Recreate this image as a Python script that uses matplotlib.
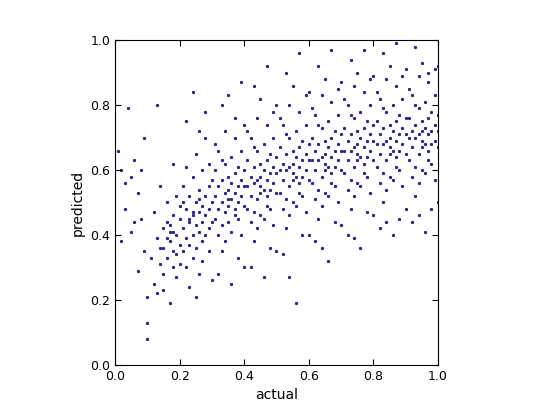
import matplotlib
matplotlib.use('Agg')
import matplotlib.pyplot as plt

# actual / predicted values, grouped by x band
x_low = [0.01, 0.02, 0.03, 0.03, 0.04, 0.05, 0.05, 0.06, 0.07, 0.07, 0.08, 0.08, 0.09, 0.09, 0.10, 0.10, 0.10, 0.02, 0.06]
y_low = [0.66, 0.38, 0.48, 0.56, 0.79, 0.58, 0.41, 0.63, 0.53, 0.29, 0.45, 0.60, 0.70, 0.35, 0.21, 0.08, 0.13, 0.60, 0.44]

x_b1 = [0.11, 0.12, 0.12, 0.13, 0.13, 0.14, 0.14, 0.15, 0.15, 0.15, 0.16, 0.16, 0.16, 0.17, 0.17, 0.17, 0.18, 0.18, 0.18,
        0.19, 0.19, 0.19, 0.20, 0.20, 0.13, 0.18, 0.16, 0.17, 0.19, 0.20, 0.15, 0.18, 0.14, 0.20]
y_b1 = [0.33, 0.25, 0.47, 0.39, 0.22, 0.55, 0.31, 0.42, 0.36, 0.28, 0.44, 0.50, 0.33, 0.38, 0.41, 0.19, 0.46, 0.35, 0.30,
        0.52, 0.40, 0.27, 0.45, 0.37, 0.80, 0.62, 0.39, 0.43, 0.34, 0.49, 0.23, 0.41, 0.36, 0.31]

x_b2 = [0.21, 0.21, 0.21, 0.22, 0.22, 0.22, 0.22, 0.23, 0.23, 0.23, 0.23, 0.24, 0.24, 0.24, 0.24, 0.25, 0.25, 0.25, 0.25,
        0.26, 0.26, 0.26, 0.26, 0.27, 0.27, 0.27, 0.27, 0.28, 0.28, 0.28, 0.28, 0.29, 0.29, 0.29, 0.29, 0.30, 0.30, 0.30,
        0.30, 0.22, 0.24, 0.26, 0.28, 0.25, 0.27, 0.23, 0.29, 0.21, 0.26, 0.24]
y_b2 = [0.42, 0.35, 0.55, 0.48, 0.39, 0.30, 0.61, 0.44, 0.52, 0.37, 0.24, 0.46, 0.40, 0.58, 0.33, 0.50, 0.43, 0.36, 0.65,
        0.47, 0.54, 0.41, 0.28, 0.49, 0.44, 0.60, 0.38, 0.52, 0.46, 0.40, 0.70, 0.55, 0.48, 0.35, 0.62, 0.50, 0.44, 0.57,
        0.26, 0.75, 0.84, 0.72, 0.78, 0.21, 0.32, 0.45, 0.42, 0.50, 0.51, 0.47]

x_b3 = [0.31, 0.31, 0.31, 0.32, 0.32, 0.32, 0.32, 0.33, 0.33, 0.33, 0.33, 0.34, 0.34, 0.34, 0.34, 0.35, 0.35, 0.35, 0.35,
        0.36, 0.36, 0.36, 0.36, 0.37, 0.37, 0.37, 0.37, 0.38, 0.38, 0.38, 0.38, 0.39, 0.39, 0.39, 0.39, 0.40, 0.40, 0.40,
        0.40, 0.33, 0.35, 0.37, 0.39, 0.32, 0.34, 0.36, 0.38, 0.31, 0.40, 0.35, 0.37, 0.33]
y_b3 = [0.52, 0.45, 0.60, 0.48, 0.55, 0.40, 0.66, 0.50, 0.57, 0.43, 0.35, 0.53, 0.47, 0.62, 0.38, 0.54, 0.49, 0.58, 0.44,
        0.56, 0.51, 0.64, 0.41, 0.53, 0.48, 0.59, 0.70, 0.55, 0.50, 0.61, 0.45, 0.57, 0.52, 0.66, 0.40, 0.55, 0.49, 0.60,
        0.30, 0.80, 0.83, 0.76, 0.87, 0.28, 0.72, 0.25, 0.33, 0.68, 0.74, 0.51, 0.46, 0.63]

x_b4 = [0.41, 0.41, 0.41, 0.42, 0.42, 0.42, 0.42, 0.43, 0.43, 0.43, 0.43, 0.44, 0.44, 0.44, 0.44, 0.45, 0.45, 0.45, 0.45,
        0.46, 0.46, 0.46, 0.46, 0.47, 0.47, 0.47, 0.47, 0.48, 0.48, 0.48, 0.48, 0.49, 0.49, 0.49, 0.49, 0.50, 0.50, 0.50,
        0.50, 0.43, 0.45, 0.47, 0.49, 0.42, 0.44, 0.46, 0.48, 0.41, 0.50, 0.45, 0.47, 0.43]
y_b4 = [0.55, 0.48, 0.63, 0.52, 0.58, 0.44, 0.70, 0.56, 0.61, 0.47, 0.38, 0.57, 0.51, 0.66, 0.42, 0.58, 0.53, 0.62, 0.46,
        0.60, 0.54, 0.68, 0.45, 0.57, 0.52, 0.63, 0.74, 0.59, 0.54, 0.65, 0.48, 0.61, 0.56, 0.70, 0.43, 0.59, 0.53, 0.64,
        0.35, 0.86, 0.82, 0.92, 0.78, 0.30, 0.76, 0.27, 0.36, 0.72, 0.80, 0.55, 0.49, 0.67]

x_b5 = [0.51, 0.51, 0.51, 0.52, 0.52, 0.52, 0.52, 0.53, 0.53, 0.53, 0.53, 0.54, 0.54, 0.54, 0.54, 0.55, 0.55, 0.55, 0.55,
        0.56, 0.56, 0.56, 0.56, 0.57, 0.57, 0.57, 0.57, 0.58, 0.58, 0.58, 0.58, 0.59, 0.59, 0.59, 0.59, 0.60, 0.60, 0.60,
        0.60, 0.53, 0.55, 0.57, 0.59, 0.52, 0.54, 0.56, 0.58, 0.51, 0.60, 0.55, 0.57, 0.53, 0.54]
y_b5 = [0.60, 0.53, 0.67, 0.57, 0.62, 0.48, 0.74, 0.60, 0.65, 0.51, 0.42, 0.61, 0.55, 0.70, 0.46, 0.62, 0.57, 0.66, 0.50,
        0.64, 0.58, 0.72, 0.49, 0.61, 0.56, 0.67, 0.78, 0.63, 0.58, 0.69, 0.52, 0.65, 0.60, 0.74, 0.47, 0.63, 0.57, 0.68,
        0.40, 0.90, 0.86, 0.96, 0.83, 0.34, 0.80, 0.19, 0.40, 0.76, 0.84, 0.59, 0.53, 0.71, 0.27]

x_b6 = [0.61, 0.61, 0.61, 0.62, 0.62, 0.62, 0.62, 0.63, 0.63, 0.63, 0.63, 0.64, 0.64, 0.64, 0.64, 0.65, 0.65, 0.65, 0.65,
        0.66, 0.66, 0.66, 0.66, 0.67, 0.67, 0.67, 0.67, 0.68, 0.68, 0.68, 0.68, 0.69, 0.69, 0.69, 0.69, 0.70, 0.70, 0.70,
        0.70, 0.63, 0.65, 0.67, 0.69, 0.62, 0.64, 0.66, 0.68, 0.61, 0.70, 0.65, 0.67, 0.63, 0.64]
y_b6 = [0.63, 0.56, 0.70, 0.60, 0.66, 0.51, 0.77, 0.63, 0.68, 0.54, 0.45, 0.64, 0.58, 0.73, 0.49, 0.65, 0.60, 0.69, 0.53,
        0.67, 0.61, 0.75, 0.52, 0.64, 0.59, 0.70, 0.81, 0.66, 0.61, 0.72, 0.55, 0.68, 0.63, 0.77, 0.50, 0.66, 0.60, 0.71,
        0.43, 0.92, 0.88, 0.97, 0.85, 0.38, 0.83, 0.32, 0.44, 0.79, 0.87, 0.62, 0.56, 0.74, 0.36]

x_b7 = [0.71, 0.71, 0.71, 0.72, 0.72, 0.72, 0.72, 0.73, 0.73, 0.73, 0.73, 0.74, 0.74, 0.74, 0.74, 0.75, 0.75, 0.75, 0.75,
        0.76, 0.76, 0.76, 0.76, 0.77, 0.77, 0.77, 0.77, 0.78, 0.78, 0.78, 0.78, 0.79, 0.79, 0.79, 0.79, 0.80, 0.80, 0.80,
        0.80, 0.73, 0.75, 0.77, 0.79, 0.72, 0.74, 0.76, 0.78, 0.71, 0.80, 0.75, 0.77, 0.73, 0.74]
y_b7 = [0.66, 0.59, 0.73, 0.63, 0.69, 0.54, 0.80, 0.66, 0.71, 0.57, 0.48, 0.67, 0.61, 0.76, 0.52, 0.68, 0.63, 0.72, 0.56,
        0.70, 0.64, 0.78, 0.55, 0.67, 0.62, 0.73, 0.84, 0.69, 0.64, 0.75, 0.58, 0.71, 0.66, 0.80, 0.53, 0.69, 0.63, 0.74,
        0.46, 0.94, 0.90, 0.97, 0.88, 0.40, 0.86, 0.36, 0.47, 0.82, 0.89, 0.65, 0.59, 0.77, 0.39]

x_b8 = [0.81, 0.81, 0.81, 0.82, 0.82, 0.82, 0.82, 0.83, 0.83, 0.83, 0.83, 0.84, 0.84, 0.84, 0.84, 0.85, 0.85, 0.85, 0.85,
        0.86, 0.86, 0.86, 0.86, 0.87, 0.87, 0.87, 0.87, 0.88, 0.88, 0.88, 0.88, 0.89, 0.89, 0.89, 0.89, 0.90, 0.90, 0.90,
        0.90, 0.83, 0.85, 0.87, 0.89, 0.82, 0.84, 0.86, 0.88, 0.81, 0.90, 0.85, 0.87, 0.83, 0.84]
y_b8 = [0.68, 0.61, 0.75, 0.65, 0.71, 0.56, 0.82, 0.68, 0.73, 0.59, 0.50, 0.69, 0.63, 0.78, 0.54, 0.70, 0.65, 0.74, 0.58,
        0.72, 0.66, 0.80, 0.57, 0.69, 0.64, 0.75, 0.86, 0.71, 0.66, 0.77, 0.60, 0.73, 0.68, 0.82, 0.55, 0.71, 0.65, 0.76,
        0.48, 0.96, 0.92, 0.99, 0.89, 0.42, 0.88, 0.40, 0.45, 0.84, 0.91, 0.67, 0.61, 0.79, 0.44]

x_b9 = [0.91, 0.91, 0.91, 0.92, 0.92, 0.92, 0.92, 0.93, 0.93, 0.93, 0.93, 0.94, 0.94, 0.94, 0.94, 0.95, 0.95, 0.95, 0.95,
        0.96, 0.96, 0.96, 0.96, 0.97, 0.97, 0.97, 0.97, 0.98, 0.98, 0.98, 0.98, 0.99, 0.99, 0.99, 0.99, 1.00, 1.00, 1.00,
        1.00, 0.93, 0.95, 0.97, 0.99, 0.92, 0.94, 0.96, 0.98, 0.91, 1.00, 0.95, 0.97, 0.93, 0.94]
y_b9 = [0.70, 0.63, 0.76, 0.67, 0.72, 0.58, 0.83, 0.70, 0.74, 0.61, 0.52, 0.71, 0.65, 0.79, 0.56, 0.72, 0.67, 0.75, 0.60,
        0.73, 0.68, 0.81, 0.59, 0.71, 0.66, 0.76, 0.87, 0.72, 0.68, 0.78, 0.62, 0.74, 0.69, 0.83, 0.57, 0.72, 0.67, 0.77,
        0.50, 0.98, 0.93, 0.90, 0.91, 0.44, 0.89, 0.41, 0.48, 0.85, 0.92, 0.69, 0.63, 0.80, 0.46]

actual = x_low + x_b1 + x_b2 + x_b3 + x_b4 + x_b5 + x_b6 + x_b7 + x_b8 + x_b9
predicted = y_low + y_b1 + y_b2 + y_b3 + y_b4 + y_b5 + y_b6 + y_b7 + y_b8 + y_b9

fig = plt.figure(figsize=(5.4, 4.05), dpi=100)
ax = fig.add_axes([0.213, 0.099, 0.598, 0.802])
ax.scatter(actual, predicted, s=4, c='#2020c0', edgecolors='#000040', linewidths=0.3)
ax.set_xlim(0, 1)
ax.set_ylim(0, 1)
ax.set_xticks([0, 0.2, 0.4, 0.6, 0.8, 1.0])
ax.set_yticks([0, 0.2, 0.4, 0.6, 0.8, 1.0])
ax.tick_params(direction='in', top=True, right=True, labelsize=9, length=4)
ax.set_xlabel('actual', fontsize=10)
ax.set_ylabel('predicted', fontsize=10)
fig.savefig('out.png')
